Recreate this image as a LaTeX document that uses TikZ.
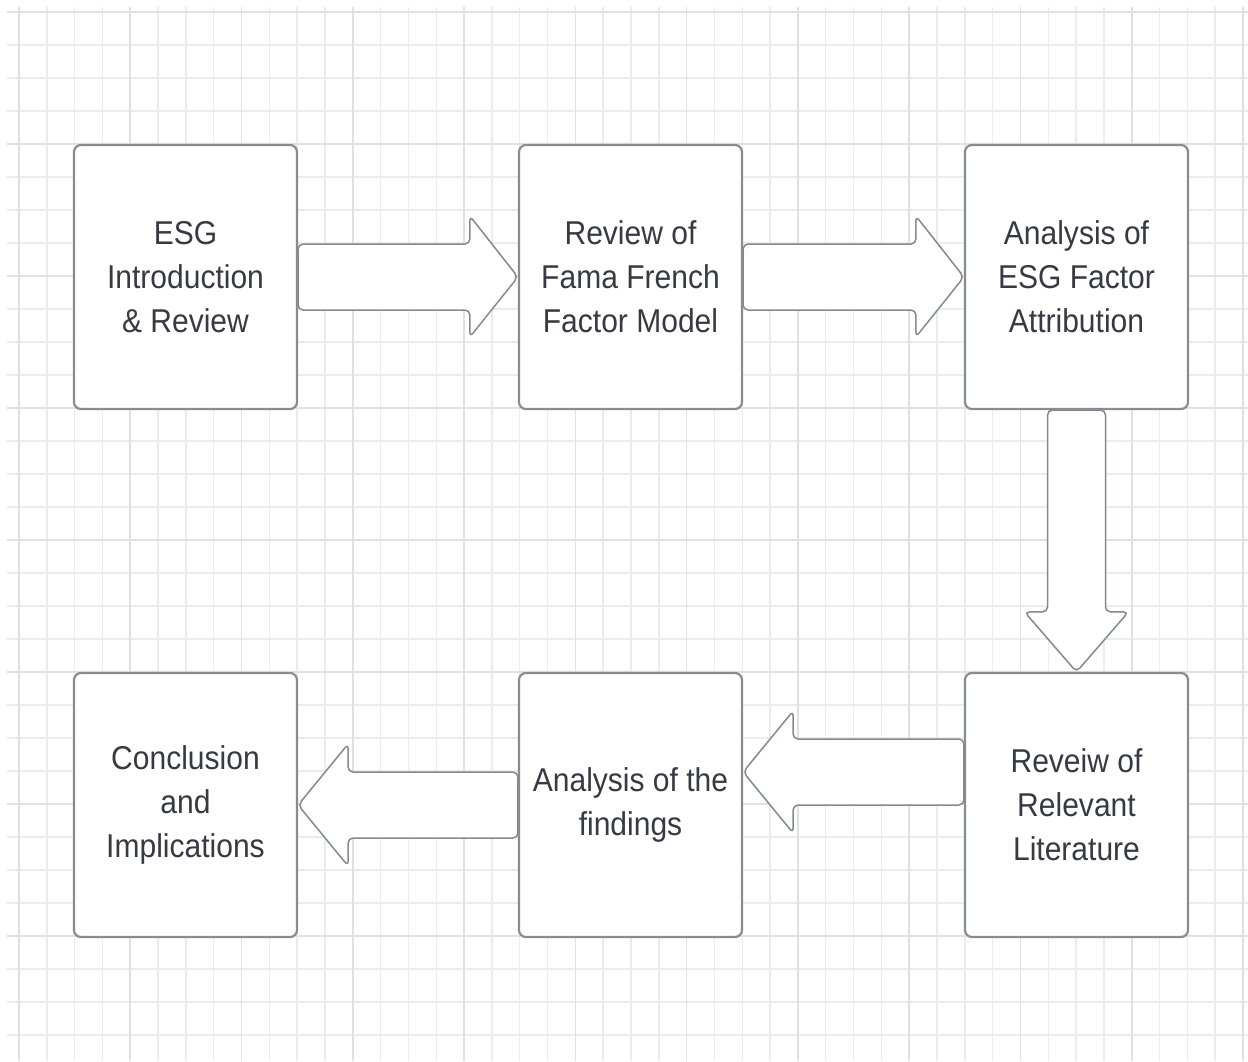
\documentclass[tikz,border=0pt]{standalone}
\usepackage{fontspec}
\setmainfont{Liberation Sans}
\newfontfamily\boxfont[FakeStretch=0.91]{Liberation Sans}
\usetikzlibrary{calc}
\pgfdeclarelayer{gridlayer}
\pgfdeclarelayer{arrowlayer}
\pgfsetlayers{gridlayer,arrowlayer,main}
\definecolor{gridminor}{HTML}{ECECEE}
\definecolor{gridmajor}{HTML}{E1E1E4}
\definecolor{boxline}{HTML}{888D93}
\definecolor{arrowline}{HTML}{85898F}
\definecolor{txt}{HTML}{363B43}
\tikzset{
  gridminorline/.style={draw=gridminor, line width=1.4pt},
  gridmajorline/.style={draw=gridmajor, line width=1.6pt},
  stagebox/.style={draw=boxline, line width=2.2pt, fill=white, rounded corners=7pt,
    minimum width=223pt, minimum height=264pt, inner sep=0pt, align=center,
    text=txt, font=\boxfont\fontsize{33}{44}\selectfont},
  blockarrow/.style={draw=arrowline, line width=1.5pt, fill=white, rounded corners=5pt}
}
\newcommand\rightblock[3]{% from, to, y offset
  \draw[blockarrow] ($(#1.east)+(0,#3-33)$) -- ($(#2.west)+(-48,#3-33)$) -- ($(#2.west)+(-48,#3-61)$)
    -- ($(#2.west)+(0,#3)$) -- ($(#2.west)+(-48,#3+60)$) -- ($(#2.west)+(-48,#3+33)$)
    -- ($(#1.east)+(0,#3+33)$) -- cycle;}
\newcommand\leftblock[3]{% from, to, y offset
  \draw[blockarrow] ($(#1.west)+(0,#3-33)$) -- ($(#2.east)+(50,#3-33)$) -- ($(#2.east)+(50,#3-61)$)
    -- ($(#2.east)+(0,#3)$) -- ($(#2.east)+(50,#3+61)$) -- ($(#2.east)+(50,#3+33)$)
    -- ($(#1.west)+(0,#3+33)$) -- cycle;}
\begin{document}
\begin{tikzpicture}[x=1pt,y=-1pt]
\useasboundingbox (0,0) rectangle (1248,1061);
\begin{pgfonlayer}{gridlayer}
  \fill[white] (0,0) rectangle (1248,1061);
  \foreach \k in {0,...,44} {
    \pgfmathsetmacro\xx{19+\k*27.818}
    \draw[gridminorline] (\xx,7) -- (\xx,1061);
  }
  \foreach \k in {0,...,31} {
    \pgfmathsetmacro\yy{12+\k*33}
    \draw[gridminorline] (7,\yy) -- (1248,\yy);
  }
  \foreach \k in {0,4,...,44} {
    \pgfmathsetmacro\xx{19+\k*27.818}
    \draw[gridmajorline] (\xx,7) -- (\xx,1061);
  }
  \foreach \k in {0,4,...,28} {
    \pgfmathsetmacro\yy{12+\k*33}
    \draw[gridmajorline] (7,\yy) -- (1248,\yy);
  }
\end{pgfonlayer}

\node[stagebox] (b1) at (185.5,277) {ESG\\Introduction\\\& Review};
\node[stagebox] (b2) at (630.5,277) {Review of\\Fama French\\Factor Model};
\node[stagebox] (b3) at (1076.5,277) {Analysis of\\ESG Factor\\Attribution};
\node[stagebox] (b4) at (1076.5,805) {Reveiw of\\Relevant\\Literature};
\node[stagebox] (b5) at (630.5,805) {Analysis of the\\findings};
\node[stagebox] (b6) at (185.5,805) {Conclusion\\and\\Implications};

\begin{pgfonlayer}{arrowlayer}
  \rightblock{b1}{b2}{0}
  \rightblock{b2}{b3}{0}
  \draw[blockarrow] ($(b3.south)+(-29,0)$) -- ($(b4.north)+(-29,-60)$) -- ($(b4.north)+(-52,-60)$)
    -- (b4.north) -- ($(b4.north)+(52,-60)$) -- ($(b4.north)+(29,-60)$)
    -- ($(b3.south)+(29,0)$) -- cycle;
  \leftblock{b4}{b5}{-33}
  \leftblock{b5}{b6}{0}
\end{pgfonlayer}
\end{tikzpicture}
\end{document}
